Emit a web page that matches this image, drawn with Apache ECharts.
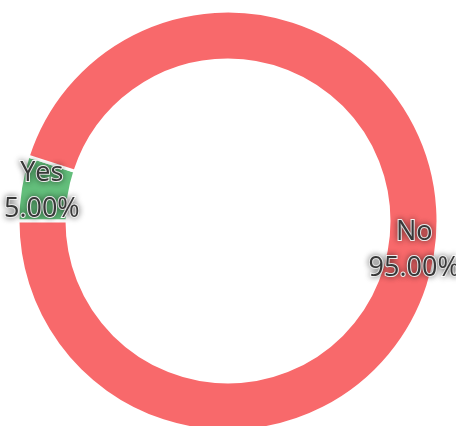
<!DOCTYPE html>
<html>
<head>
<meta charset="utf-8">
<script src="https://cdn.jsdelivr.net/npm/echarts@6/dist/echarts.min.js"></script>
<style>
  html, body { margin: 0; padding: 0; background: #fff; }
  #chart { width: 456px; height: 426px; }
</style>
</head>
<body>
<div id="chart"></div>
<script>
const categories = ['Yes', 'No'];
const values = [5, 95];
const colors = ['#63BE7B', '#F8696B'];

const chart = echarts.init(document.getElementById('chart'), null, { renderer: 'canvas' });

chart.setOption({
  animation: false,
  backgroundColor: '#ffffff',
  series: [{
    type: 'pie',
    center: [228, 221],
    radius: [161, 210],
    startAngle: 180,
    clockwise: true,
    avoidLabelOverlap: false,
    itemStyle: { borderColor: '#ffffff', borderWidth: 3 },
    label: {
      show: true,
      position: 'inside',
      formatter: p => p.name + '\n' + p.value.toFixed(2) + '%',
      fontFamily: 'Open Sans',
      fontSize: 27,
      lineHeight: 36,
      color: '#383838',
      textBorderColor: '#ffffff',
      textBorderWidth: 2,
      textShadowColor: 'rgba(0,0,0,0.4)',
      textShadowBlur: 6
    },
    labelLine: { show: false },
    data: categories.map((c, i) => ({
      name: c,
      value: values[i],
      itemStyle: { color: colors[i] }
    }))
  }]
});
</script>
</body>
</html>
